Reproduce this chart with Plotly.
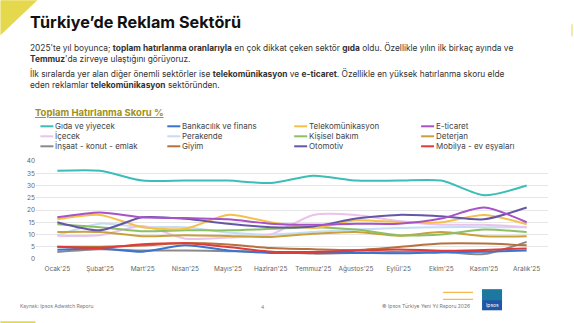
import plotly.graph_objects as go

W, H = 574, 323

months = ["Ocak'25", "Şubat'25", "Mart'25", "Nisan'25", "Mayıs'25", "Haziran'25",
          "Temmuz'25", "Ağustos'25", "Eylül'25", "Ekim'25", "Kasım'25", "Aralık'25"]

gida = [36, 36, 32, 32, 32, 31, 34, 32, 32, 32, 26, 30]
bankacilik = [3.8, 4.3, 3.0, 5.6, 3.5, 2.5, 2.5, 2.5, 2.3, 2.7, 3.0, 3.5]
telekom = [16.2, 18, 13, 12.4, 18, 15, 12.7, 15.8, 15, 15, 18, 14.2]
eticaret = [17, 19, 17, 16.7, 16.2, 14.4, 14, 14.4, 14.4, 16.5, 21, 15]
icecek = [9.5, 9.7, 13.5, 8.3, 8.8, 10, 18, 18, 15.5, 14, 14, 13]
perakende = [9.7, 14.4, 13, 13, 10.8, 10, 11, 12, 12.7, 13, 13, 13]
kisisel = [14.2, 13, 11.3, 11.7, 11.7, 12.3, 13, 12, 9.7, 10, 12, 11]
deterjan = [11, 11, 9.3, 9.7, 9.4, 9, 10.3, 11, 9.5, 11, 9.3, 9.3]
insaat = [2.9, 4, 3.5, 3.5, 3.2, 3, 2.2, 2.5, 3, 3, 2, 7]
giyim = [5, 5, 5.5, 6.5, 5.9, 4.5, 4, 3.7, 4.9, 6.3, 6.3, 5.6]
otomotiv = [15, 11.7, 17, 16.4, 14.4, 13, 13.3, 16.5, 18, 17.4, 16.2, 21]
mobilya = [5, 4.5, 6, 6.4, 4.9, 3, 2.9, 3.4, 3.9, 3.4, 3.7, 4.3]

series_names = ["Gıda ve yiyecek", "Bankacılık ve finans", "Telekomünikasyon", "E-ticaret",
                "İçecek", "Perakende", "Kişisel bakım", "Deterjan",
                "İnşaat - konut - emlak", "Giyim", "Otomotiv", "Mobilya - ev eşyaları"]
series_values = [gida, bankacilik, telekom, eticaret, icecek, perakende, kisisel, deterjan,
                 insaat, giyim, otomotiv, mobilya]
series_colors = ["#3cbdb6", "#3a73d0", "#f5c04a", "#a752c9",
                 "#ebc2eb", "#c4dcf4", "#8cc063", "#c9a03c",
                 "#8a8a8a", "#b5713e", "#6656a8", "#e03a3a"]

# plot area in pixels
L, R, T, B = 35.6, 548.0, 160.7, 258.7
pw, ph = R - L, B - T

def px(x):
    return (x - L) / pw

def py(y):
    return (B - y) / ph

fig = go.Figure()
order = [5, 4, 7, 6, 2, 10, 3, 8, 1, 9, 11, 0]
for i in order:
    fig.add_trace(go.Scatter(
        x=months, y=series_values[i], mode="lines", name=series_names[i],
        line=dict(color=series_colors[i], width=2, shape="spline", smoothing=0.7),
        showlegend=False))

ann = []
shapes = []

shapes.append(dict(type="path", xref="paper", yref="paper",
                   path=f"M {px(0)} {py(0)} L {px(37)} {py(0)} L {px(0)} {py(35)} Z",
                   fillcolor="#e6d84c", line=dict(width=0), layer="below"))
shapes.append(dict(type="line", xref="paper", yref="paper",
                   x0=px(0), x1=px(35), y0=py(322), y1=py(322),
                   line=dict(color="#e6d84c", width=2)))
shapes.append(dict(type="line", xref="paper", yref="paper",
                   x0=px(572), x1=px(572), y0=py(24), y1=py(36),
                   line=dict(color="#e6d84c", width=1)))

FONT = "Inter, Roboto, sans-serif"

ann.append(dict(text="<b>Türkiye’de Reklam Sektörü</b>", x=px(28), y=py(22), xref="paper", yref="paper",
                xanchor="left", yanchor="middle", showarrow=False,
                font=dict(size=16.2, color="#111111", family=FONT)))

para = [
    (47, "2025'te yıl boyunca; <b>toplam hatırlanma oranlarıyla</b> en çok dikkat çeken sektör <b>gıda</b> oldu. Özellikle yılın ilk birkaç ayında ve"),
    (59, "<b>Temmuz</b>'da zirveye ulaştığını görüyoruz."),
    (73, "İlk sıralarda yer alan diğer önemli sektörler ise <b>telekomünikasyon</b> ve <b>e-ticaret</b>. Özellikle en yüksek hatırlanma skoru elde"),
    (85, "eden reklamlar <b>telekomünikasyon</b> sektöründen."),
]
for y, t in para:
    ann.append(dict(text=t, x=px(28), y=py(y), xref="paper", yref="paper",
                    xanchor="left", yanchor="middle", showarrow=False,
                    font=dict(size=8.35, color="#333333", family=FONT)))

ann.append(dict(text="<b><u>Toplam Hatırlanma Skoru %</u></b>", x=px(33), y=py(112), xref="paper", yref="paper",
                xanchor="left", yanchor="middle", showarrow=False,
                font=dict(size=9.5, color="#a0901c", family=FONT)))

col_x = [40, 167, 294, 421]
row_y = [126, 136, 146]
for k, name in enumerate(series_names):
    r, c = divmod(k, 4)
    x0 = col_x[c]
    y0 = row_y[r]
    shapes.append(dict(type="line", xref="paper", yref="paper",
                       x0=px(x0), x1=px(x0 + 13), y0=py(y0), y1=py(y0),
                       line=dict(color=series_colors[k], width=2)))
    ann.append(dict(text=name, x=px(x0 + 13), y=py(y0), xref="paper", yref="paper",
                    xanchor="left", yanchor="middle", showarrow=False,
                    font=dict(size=8, color="#444444", family=FONT)))

ann.append(dict(text="Kaynak: Ipsos Adwatch Raporu", x=px(18), y=py(306), xref="paper", yref="paper",
                xanchor="left", yanchor="middle", showarrow=False,
                font=dict(size=5, color="#777777", family=FONT)))
ann.append(dict(text="4", x=px(262), y=py(307), xref="paper", yref="paper",
                xanchor="center", yanchor="middle", showarrow=False,
                font=dict(size=5, color="#777777", family=FONT)))
ann.append(dict(text="© Ipsos Türkiye Yeni Yıl Raporu 2026", x=px(472), y=py(306), xref="paper", yref="paper",
                xanchor="right", yanchor="middle", showarrow=False,
                font=dict(size=5, color="#777777", family=FONT)))
for yy in (292, 299):
    shapes.append(dict(type="line", xref="paper", yref="paper",
                       x0=px(443), x1=px(473), y0=py(yy), y1=py(yy),
                       line=dict(color="#f5a623", width=1)))
shapes.append(dict(type="rect", xref="paper", yref="paper",
                   x0=px(482), x1=px(502), y0=py(310), y1=py(289),
                   fillcolor="#1f56a5", line=dict(width=0)))
shapes.append(dict(type="rect", xref="paper", yref="paper",
                   x0=px(482), x1=px(502), y0=py(300), y1=py(289),
                   fillcolor="#1a8f9a", line=dict(width=0), opacity=0.6))
ann.append(dict(text="Ipsos", x=px(492), y=py(305), xref="paper", yref="paper",
                xanchor="center", yanchor="middle", showarrow=False,
                font=dict(size=5, color="#ffffff", family=FONT)))

fig.update_layout(
    width=W, height=H,
    margin=dict(l=L, r=W - R, t=T, b=H - B, pad=0),
    paper_bgcolor="#ffffff", plot_bgcolor="#ffffff",
    showlegend=False,
    annotations=ann, shapes=shapes,
    xaxis=dict(type="category", range=[-0.5, 11.5], showgrid=False, zeroline=False,
               showline=False, ticks="", tickfont=dict(size=6.5, color="#666666", family=FONT),
               tickangle=0, ticklabelstandoff=4),
    yaxis=dict(range=[0, 40], tickvals=[0, 5, 10, 15, 20, 25, 30, 35, 40],
               showgrid=True, gridcolor="#e6e6e6", gridwidth=1, zeroline=False,
               showline=False, ticks="", tickfont=dict(size=6.5, color="#666666", family=FONT),
               ticksuffix="  "),
)

fig.write_html("out.html")
